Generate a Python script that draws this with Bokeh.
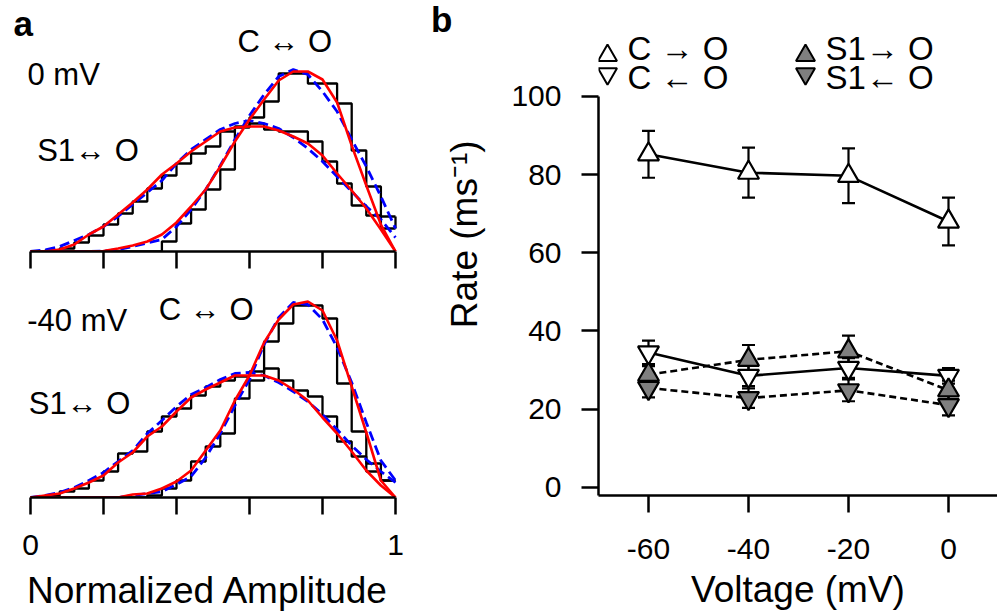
import math
from bokeh.plotting import figure
from bokeh.models import Range1d, FixedTicker, Label, Whisker, TeeHead, ColumnDataSource
from bokeh.layouts import row, column
from bokeh.embed import file_html
from bokeh.resources import INLINE

FONT = "Liberation Sans"

# ---------------- panel a: amplitude histograms ----------------
BIN_EDGES = [0.00, 0.04, 0.08, 0.12, 0.16, 0.20, 0.24, 0.28, 0.32, 0.36, 0.40, 0.44, 0.48,
             0.52, 0.56, 0.60, 0.64, 0.68, 0.72, 0.76, 0.80, 0.84, 0.88, 0.92, 0.96, 1.00]

# 0 mV (counts per bin, 25 bins)
TOP_CO_HIST = [0, 0, 0, 0, 0, 0, 0, 0, 0, 10, 28, 42, 62, 82, 124, 134, 150, 178, 178, 168, 168, 148, 101, 65, 35]
TOP_S1_HIST = [0, 1, 3, 9, 16, 27, 38, 50, 63, 76, 88, 98, 105, 120, 125, 128, 122, 120, 120, 110, 90, 68, 46, 36, 23]
# fits evaluated at bin edges (26 points)
TOP_CO_RED = [0, 0, 0, 0, 0, 0.5, 3, 6, 10, 17, 29, 45, 62, 85, 110, 132, 152, 171, 180, 180, 172, 149, 106, 66, 27, 0]
TOP_CO_BLUE = [0, 0, 0, 0, 0, 0.5, 2, 5, 8.5, 12, 25, 42, 62, 86, 112, 136, 157, 175, 182, 177, 160, 140, 112, 85, 55, 23]
TOP_S1_RED = [0, 0, 2, 7, 17, 25, 37, 49, 62, 77, 88, 100, 110, 120, 124, 125, 125, 121, 115, 108, 96, 78, 61, 43, 22, 0]
TOP_S1_BLUE = [0, 1.5, 5, 11, 17, 25, 35, 47, 59, 71, 88, 102, 112, 122, 128, 131, 128, 123, 114, 103, 90, 75, 60, 45, 32, 14]

# -40 mV
BOT_CO_HIST = [0, 0, 0, 0, 0, 0, 0, 0, 2, 9, 17, 36, 51, 64, 99, 117, 156, 174, 192, 192, 179, 114, 66, 34, 17]
BOT_S1_HIST = [0, 2, 6, 9, 17, 26, 44, 46, 66, 81, 89, 102, 111, 117, 121, 126, 129, 117, 107, 101, 81, 56, 41, 26, 17]
BOT_CO_RED = [0, 0, 0, 0, 0, 0, 0, 3, 4, 9, 16, 27, 47, 67, 97, 122, 155, 178, 193, 196, 187, 157, 111, 65, 17, 0]
BOT_CO_BLUE = [0, 0, 0, 0, 0, 0, 0, 2, 4, 6, 13, 21, 40, 64, 92, 118, 153, 180, 195, 193, 178, 150, 115, 75, 37, 17]
BOT_S1_RED = [0, 2, 4, 9, 15, 22, 35, 45, 61, 71, 86, 100, 108, 115, 122, 122, 122, 117, 108, 97, 80, 64, 46, 27, 12, 0]
BOT_S1_BLUE = [0, 2, 5, 10, 17, 25, 36, 47, 64, 77, 91, 103, 110, 118, 124, 125, 122, 115, 106, 96, 83, 68, 52, 38, 26, 15]

AMP_LABELED_TICKS = [0, 1]
AMP_TICKS = [0, 0.2, 0.4, 0.6, 0.8, 1]
AMP_MINOR = [0.2, 0.4, 0.6, 0.8]

# ---------------- panel b: rates ----------------
VOLTAGE = [-60, -40, -20, 0]
C_TO_O = [85.2, 80.5, 79.7, 68.0]
C_TO_O_ERR = [6.0, 6.4, 7.0, 6.1]
C_FROM_O = [34.5, 28.5, 30.5, 28.5]
C_FROM_O_ERR = [3.0, 2.6, 2.5, 2.0]
S1_TO_O = [28.8, 32.6, 34.8, 24.8]
S1_TO_O_ERR = [2.2, 3.8, 4.0, 2.5]
S1_FROM_O = [25.4, 22.8, 24.8, 21.0]
S1_FROM_O_ERR = [2.4, 2.5, 2.8, 2.6]
VOLT_TICKS = [-60, -40, -20, 0]
RATE_TICKS = [0, 20, 40, 60, 80, 100]

GRAY = "#7f7f7f"


def style_axis(ax, tick_len):
    ax.axis_line_width = 2.5
    ax.axis_line_color = "black"
    ax.major_tick_line_width = 2.5
    ax.minor_tick_line_width = 2.5
    ax.major_tick_line_color = "black"
    ax.minor_tick_line_color = "black"
    ax.major_tick_out = tick_len
    ax.major_tick_in = 0
    ax.minor_tick_out = tick_len
    ax.minor_tick_in = 0
    ax.major_label_text_font = FONT
    ax.major_label_text_font_size = "30px"
    ax.major_label_text_color = "black"
    ax.axis_label_text_font = FONT
    ax.axis_label_text_font_size = "37px"
    ax.axis_label_text_font_style = "normal"
    ax.axis_label_text_color = "black"


def add_text(p, x, y, text, size="31px", bold=False, angle=0.0, align="left"):
    p.add_layout(Label(x=x, y=y, text=text, text_font=FONT, text_font_size=size,
                       text_font_style="bold" if bold else "normal", angle=angle,
                       text_baseline="alphabetic", text_align=align, text_color="black"))


def bare(p):
    p.outline_line_color = None
    p.grid.visible = False
    p.background_fill_color = "white"
    p.border_fill_color = "white"


def hist_panel(height, y_end, border_bottom,
               co_hist, s1_hist, co_red, co_blue, s1_red, s1_blue, labeled):
    p = figure(width=428, height=height,
               x_range=Range1d(-0.0548, 1.0274), y_range=Range1d(0, y_end),
               output_backend="svg", toolbar_location=None, y_axis_location=None,
               min_border_left=10, min_border_right=23, min_border_top=0,
               min_border_bottom=border_bottom)
    bare(p)

    for h in (co_hist, s1_hist):
        p.step(x=BIN_EDGES, y=h + [h[-1]], mode="after", line_color="black", line_width=2.3)
    p.segment(x0=[BIN_EDGES[-1]], x1=[BIN_EDGES[-1]], y0=[co_hist[-1]], y1=[s1_hist[-1]],
              line_color="black", line_width=2.3)

    for b in (co_blue, s1_blue):
        p.line(BIN_EDGES, b, line_color="#0000ff", line_width=2.8, line_dash="10 5")
    for r in (co_red, s1_red):
        p.line(BIN_EDGES, r, line_color="#ff0000", line_width=2.6)

    ax = p.xaxis[0]
    ax.bounds = (0, 1)
    if labeled:
        ax.ticker = FixedTicker(ticks=AMP_LABELED_TICKS, minor_ticks=AMP_MINOR)
        ax.axis_label = "Normalized Amplitude"
    else:
        ax.ticker = FixedTicker(ticks=[], minor_ticks=AMP_TICKS)
    style_axis(ax, 17)
    ax.major_label_standoff = 20
    ax.axis_label_standoff = 12
    return p


# top (0 mV)
pa1 = hist_panel(283, 251, 32, TOP_CO_HIST, TOP_S1_HIST, TOP_CO_RED, TOP_CO_BLUE,
                 TOP_S1_RED, TOP_S1_BLUE, labeled=False)
add_text(pa1, -0.0466, 228.2, "a", size="35px", bold=True)
add_text(pa1, -0.0082, 176.7, "0 mV")
add_text(pa1, 0.567, 210.0, "C \u2194 O")
add_text(pa1, 0.0183, 100.8, "S1\u2194 O")

# bottom (-40 mV)
pa2 = hist_panel(332, 214, 118, BOT_CO_HIST, BOT_S1_HIST, BOT_CO_RED, BOT_CO_BLUE,
                 BOT_S1_RED, BOT_S1_BLUE, labeled=True)
add_text(pa2, -0.009, 176.8, "-40 mV")
add_text(pa2, 0.3515, 187.7, "C \u2194 O")
add_text(pa2, -0.0047, 94.3, "S1\u2194 O")

# ---------------- panel b: label strip ----------------
pl = figure(width=72, height=615, x_range=Range1d(0, 72), y_range=Range1d(615, 0),
            output_backend="svg", toolbar_location=None,
            x_axis_location=None, y_axis_location=None, min_border=0)
bare(pl)
add_text(pl, 2.5, 23.5, "b", size="35px", bold=True)
add_text(pl, 35.5, 290.5, "Rate (ms\u207b\u00b9)", size="37px", angle=math.pi / 2, align="center")

# ---------------- panel b: rates ----------------
Y_START, Y_END = -2.124, 124.57
pb = figure(width=497, height=615,
            x_range=Range1d(-70, 9.8), y_range=Range1d(Y_START, Y_END),
            output_backend="svg", toolbar_location=None,
            min_border_left=98, min_border_right=0, min_border_top=0, min_border_bottom=120)
bare(pb)

style_axis(pb.xaxis[0], 17)
pb.xaxis[0].ticker = FixedTicker(ticks=VOLT_TICKS, minor_ticks=[])
pb.xaxis[0].major_label_overrides = {t: str(t) for t in VOLT_TICKS}
pb.xaxis[0].axis_label = "Voltage (mV)"
pb.xaxis[0].major_label_standoff = 26
pb.xaxis[0].axis_label_standoff = 7

style_axis(pb.yaxis[0], 17)
pb.yaxis[0].ticker = FixedTicker(ticks=RATE_TICKS, minor_ticks=[])
pb.yaxis[0].bounds = (Y_START, RATE_TICKS[-1])
pb.yaxis[0].major_label_standoff = 20

series = [
    (C_TO_O, C_TO_O_ERR, "triangle", "white", None),
    (C_FROM_O, C_FROM_O_ERR, "inverted_triangle", "white", None),
    (S1_TO_O, S1_TO_O_ERR, "triangle", GRAY, "7 4"),
    (S1_FROM_O, S1_FROM_O_ERR, "inverted_triangle", GRAY, "7 4"),
]

for vals, errs, marker, fill, dash in series:
    src = ColumnDataSource(dict(x=VOLTAGE,
                                lower=[v - e for v, e in zip(vals, errs)],
                                upper=[v + e for v, e in zip(vals, errs)]))
    pb.add_layout(Whisker(base="x", lower="lower", upper="upper", source=src,
                          line_color="black", line_width=2.2,
                          upper_head=TeeHead(size=13, line_width=2.2, line_color="black"),
                          lower_head=TeeHead(size=13, line_width=2.2, line_color="black")))
    if dash:
        pb.line(VOLTAGE, vals, line_color="black", line_width=2.6, line_dash=dash)
    else:
        pb.line(VOLTAGE, vals, line_color="black", line_width=2.6)

for vals, errs, marker, fill, dash in series:
    pb.scatter(VOLTAGE, vals, marker=marker, size=21, fill_color=fill,
               line_color="black", line_width=2.2)

# key (layout positions above the top of the rate axis)
KEY_MARK_Y = [110.5, 105.8]
KEY_TEXT_Y = [112.36, 104.9]
KEY_MARK_X = [-68.2, -28.6]
KEY_TEXT_X = [-64.2, -24.6]
key_items = [
    (0, 0, "triangle", "white", "C \u2192 O"),
    (0, 1, "inverted_triangle", "white", "C \u2190 O"),
    (1, 0, "triangle", GRAY, "S1\u2192 O"),
    (1, 1, "inverted_triangle", GRAY, "S1\u2190 O"),
]
for col, rw, marker, fill, text in key_items:
    pb.scatter([KEY_MARK_X[col]], [KEY_MARK_Y[rw]], marker=marker, size=19,
               fill_color=fill, line_color="black", line_width=2)
    add_text(pb, KEY_TEXT_X[col], KEY_TEXT_Y[rw], text, size="33px")

layout = row(column(pa1, pa2), pl, pb)

with open("out.html", "w") as f:
    f.write(file_html(layout, INLINE))
